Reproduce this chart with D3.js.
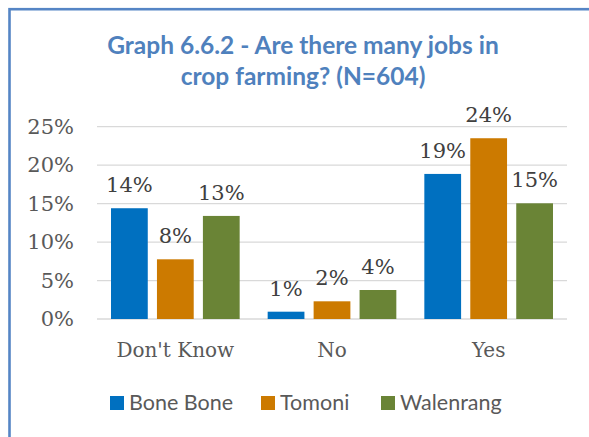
<!DOCTYPE html>
<html>
<head>
<meta charset="utf-8">
<script src="https://cdn.jsdelivr.net/npm/d3@7"></script>
<style>
  html, body { margin: 0; padding: 0; background: #fff; }
  svg { display: block; }
</style>
</head>
<body>
<svg id="chart" width="589" height="437"></svg>
<script>
// Survey responses: share of respondents per village
const categories = ["Don't Know", "No", "Yes"];
const seriesNames = ["Bone Bone", "Tomoni", "Walenrang"];
const boneBone = [0.144, 0.0095, 0.1886];
const tomoni = [0.0776, 0.023, 0.235];
const walenrang = [0.134, 0.0377, 0.1504];
const yTicks = [0, 0.05, 0.10, 0.15, 0.20, 0.25];
const titleLines = ["Graph 6.6.2 - Are there many jobs in", "crop farming? (N=604)"];

const seriesValues = [boneBone, tomoni, walenrang];
const colors = ["#0070c0", "#cc7a00", "#6a8436"];

const svg = d3.select("#chart");

// Chart frame
svg.append("rect")
  .attr("x", 9.5).attr("y", 9.2)
  .attr("width", 640).attr("height", 500)
  .attr("fill", "none")
  .attr("stroke", "#5585c5")
  .attr("stroke-width", 2.6);

// Title
const title = svg.append("text")
  .attr("x", 303).attr("y", 54)
  .attr("text-anchor", "middle")
  .attr("font-family", "Lato, 'Open Sans', sans-serif")
  .attr("font-weight", "bold")
  .attr("font-size", 24.5)
  .attr("fill", "#4f81bd");
titleLines.forEach((t, i) => {
  title.append("tspan").attr("x", 303).attr("dy", i === 0 ? 0 : 31).text(t);
});

const plot = { left: 97, right: 567, top: 126.7, bottom: 319 };

const x0 = d3.scaleBand()
  .domain(categories)
  .range([plot.left, plot.right])
  .paddingInner(0)
  .paddingOuter(0);

const x1 = d3.scaleBand()
  .domain(seriesNames)
  .range([14, x0.bandwidth() - 14])
  .paddingInner(0.2)
  .paddingOuter(0);

const y = d3.scaleLinear()
  .domain([0, 0.25])
  .range([plot.bottom, plot.top]);

const pct = d3.format(".0%");

// Gridlines
svg.append("g")
  .selectAll("line")
  .data(yTicks)
  .join("line")
  .attr("x1", plot.left).attr("x2", plot.right)
  .attr("y1", d => y(d)).attr("y2", d => y(d))
  .attr("stroke", "#d9d9d9")
  .attr("stroke-width", 1.3);

// Y axis labels
const yAxis = d3.axisLeft(y).tickValues(yTicks).tickFormat(pct).tickSize(0).tickPadding(0);
const yG = svg.append("g")
  .attr("transform", `translate(74,0)`)
  .call(yAxis);
yG.select(".domain").remove();
yG.selectAll("text")
  .attr("font-family", "'DejaVu Serif', serif")
  .attr("font-size", 21)
  .attr("fill", "#595959");

// Bars
const groups = svg.append("g")
  .selectAll("g")
  .data(categories)
  .join("g")
  .attr("transform", d => `translate(${x0(d)},0)`);

groups.selectAll("rect")
  .data((c, ci) => seriesNames.map((s, si) => ({ s, v: seriesValues[si][ci], si })))
  .join("rect")
  .attr("x", d => x1(d.s))
  .attr("width", x1.bandwidth())
  .attr("y", d => y(d.v))
  .attr("height", d => y(0) - y(d.v))
  .attr("fill", d => colors[d.si]);

// Value labels
groups.selectAll("text")
  .data((c, ci) => seriesNames.map((s, si) => ({ s, v: seriesValues[si][ci], si })))
  .join("text")
  .attr("x", d => x1(d.s) + x1.bandwidth() / 2)
  .attr("y", d => y(d.v) - 16)
  .attr("text-anchor", "middle")
  .attr("font-family", "'DejaVu Serif', serif")
  .attr("font-size", 21)
  .attr("fill", "#404040")
  .text(d => pct(d.v));

// Category axis
const xAxis = d3.axisBottom(x0).tickSize(0).tickPadding(0);
const xG = svg.append("g")
  .attr("transform", `translate(0,${plot.bottom})`)
  .call(xAxis);
xG.select(".domain").remove();
xG.selectAll("text")
  .attr("dy", null)
  .attr("y", 38)
  .attr("font-family", "'DejaVu Serif', serif")
  .attr("font-size", 20)
  .attr("fill", "#595959");

// Legend
const legendX = [110, 261, 381];
const legend = svg.append("g")
  .selectAll("g")
  .data(seriesNames)
  .join("g")
  .attr("transform", (d, i) => `translate(${legendX[i]},396)`);
legend.append("rect")
  .attr("width", 14).attr("height", 14)
  .attr("fill", (d, i) => colors[i]);
legend.append("text")
  .attr("x", 19).attr("y", 14)
  .attr("font-family", "Lato, 'Open Sans', sans-serif")
  .attr("font-size", 21.5)
  .attr("fill", "#595959")
  .text(d => d);
</script>
</body>
</html>
